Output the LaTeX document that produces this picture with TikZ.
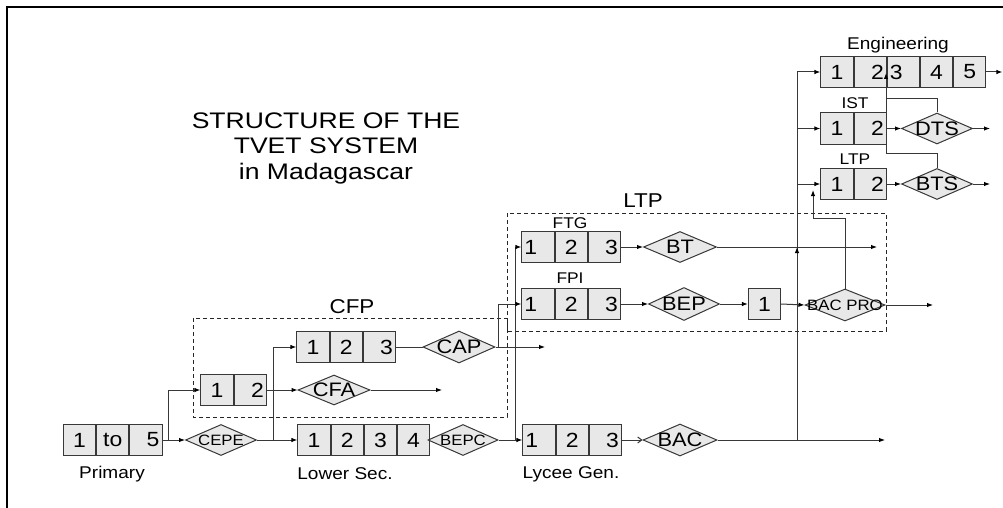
\documentclass[tikz,border=0pt]{standalone}
\usepackage{fontspec}
\setmainfont{Liberation Sans}
\usetikzlibrary{shapes.geometric,arrows.meta}
\newcommand{\sx}[1]{\scalebox{1.12}[1]{#1}}
\begin{document}
\begin{tikzpicture}[x=1pt,y=-1pt,
  line/.style={draw=black!78, line width=1pt},
  arr/.style={line, -{Latex[length=6pt,width=4.5pt,color=black]}},
  oarr/.style={line, -{Straight Barb[length=4pt,width=6pt]}},
  cellbase/.style={draw=black!78, fill=black!9, line width=1pt, minimum height=31pt,
     inner ysep=0pt, inner xsep=2.5pt, text width=27.2pt, font=\fontsize{20.5}{22}\selectfont},
  cell/.style={cellbase, align=center},
  cellL/.style={cellbase, align=left},
  cellR/.style={cellbase, align=right},
  dia/.style={shape=diamond, draw=black!78, fill=black!9, line width=1pt, inner sep=0pt},
  dbig/.style={font=\fontsize{19.5}{21}\selectfont, inner sep=0pt},
  dsmall/.style={font=\fontsize{15}{17}\selectfont, inner sep=0pt},
  lab/.style={font=\fontsize{17}{19}\selectfont, inner sep=0pt},
  slab/.style={font=\fontsize{15.5}{17}\selectfont, inner sep=0pt},
  glab/.style={font=\fontsize{20}{22}\selectfont, inner sep=0pt},
  grp/.style={draw=black!85, line width=0.8pt, dash pattern=on 4pt off 3pt}
]
\useasboundingbox (0,0) rectangle (1003,508);
% frame
\draw[line width=2pt] (7,508) -- (7,7) -- (1003,7);

% title
\node[align=center, font=\fontsize{22.5}{25.5}\selectfont] (title) at (326,148)
  {\scalebox{1.18}[1]{STRUCTURE OF THE}\\ \scalebox{1.18}[1]{TVET SYSTEM}\\ \scalebox{1.18}[1]{in Madagascar}};

% dashed groups
\draw[grp] (193,318) rectangle (507,417);
\draw[grp] (507,213) rectangle (886,331);
\node[glab] (cfplab) at (352,307) {\sx{CFP}};
\node[glab] (ltplab) at (643,201) {\sx{LTP}};

% Primary
\node[cell] (p1) at (79.5,440) {\sx{1}};
\node[cell,anchor=west] (p2) at (p1.east) {\sx{to}};
\node[cellR,anchor=west] (p3) at (p2.east) {\sx{5}};
\node[lab] (primlab) at (112,474) {\sx{Primary}};

\node[dia, minimum width=71pt, minimum height=31pt, label={[dsmall]center:\sx{CEPE}}] (cepe) at (221,440) {};

% Lower secondary
\node[cell] (l1) at (314,440) {\sx{1}};
\node[cell,anchor=west] (l2) at (l1.east) {\sx{2}};
\node[cell,anchor=west] (l3) at (l2.east) {\sx{3}};
\node[cell,anchor=west] (l4) at (l3.east) {\sx{4}};
\node[lab] (lowlab) at (345,474) {\sx{Lower Sec.}};

\node[dia, minimum width=70pt, minimum height=31pt, label={[dsmall]center:\sx{BEPC}}] (bepc) at (463,440) {};

% Lycee
\node[cellL] (y1) at (539,440) {\sx{1}};
\node[cell,anchor=west] (y2) at (y1.east) {\sx{2}};
\node[cellR,anchor=west] (y3) at (y2.east) {\sx{3}};
\node[lab] (lyclab) at (571,474) {\sx{Lycee Gen.}};

\node[dia, minimum width=74pt, minimum height=32pt, label={[dbig]center:\sx{BAC}}] (bac) at (680,440) {};

% CFP
\node[cell] (c1) at (217,390) {\sx{1}};
\node[cellR,anchor=west] (c2) at (c1.east) {\sx{2}};
\node[dia, minimum width=72pt, minimum height=30pt, label={[dbig]center:\sx{CFA}}] (cfa) at (334,390) {};
\node[cell] (d1) at (313,347) {\sx{1}};
\node[cell,anchor=west] (d2) at (d1.east) {\sx{2}};
\node[cellR,anchor=west] (d3) at (d2.east) {\sx{3}};
\node[dia, minimum width=72pt, minimum height=32pt, label={[dbig]center:\sx{CAP}}] (cap) at (459,347) {};

% LTP
\node[cellL] (f1) at (538,247) {\sx{1}};
\node[cell,anchor=west] (f2) at (f1.east) {\sx{2}};
\node[cellR,anchor=west] (f3) at (f2.east) {\sx{3}};
\node[slab] (ftglab) at (570,223) {\sx{FTG}};
\node[dia, minimum width=73pt, minimum height=31pt, label={[dbig]center:\sx{BT}}] (bt) at (680,247) {};

\node[cellL] (g1) at (538,304) {\sx{1}};
\node[cell,anchor=west] (g2) at (g1.east) {\sx{2}};
\node[cellR,anchor=west] (g3) at (g2.east) {\sx{3}};
\node[slab] (fpilab) at (570,278) {\sx{FPI}};
\node[dia, minimum width=71pt, minimum height=33pt, label={[dbig]center:\sx{BEP}}] (bep) at (684,304) {};
\node[cell] (one) at (764.5,304) {\sx{1}};
\node[dia, minimum width=80pt, minimum height=32pt, label={[dsmall]center:\sx{BAC PRO}}] (bacpro) at (845,305) {};

% Higher
\node[cell] (e1) at (837,72) {\sx{1}};
\node[cellR,anchor=west] (e2) at (e1.east) {\sx{2}};
\node[cellL,anchor=west] (e3) at (e2.east) {\sx{3}};
\node[cell,anchor=west] (e4) at (e3.east) {\sx{4}};
\node[cell,anchor=west] (e5) at (e4.east) {\sx{5}};
\node[lab] (englab) at (898,45) {\sx{Engineering}};

\node[cell] (i1) at (837,128.5) {\sx{1}};
\node[cellR,anchor=west] (i2) at (i1.east) {\sx{2}};
\node[slab] (istlab) at (855,103) {\sx{IST}};
\node[dia, minimum width=71pt, minimum height=31pt, label={[dbig]center:\sx{DTS}}] (dts) at (937,128.5) {};

\node[cell] (t1) at (837,184) {\sx{1}};
\node[cellR,anchor=west] (t2) at (t1.east) {\sx{2}};
\node[slab] (ltp2lab) at (855,159) {\sx{LTP}};
\node[dia, minimum width=71pt, minimum height=31pt, label={[dbig]center:\sx{BTS}}] (bts) at (937,184) {};

% junctions and free ends
\coordinate (j1) at (168,440);
\coordinate (j2) at (273,440);
\coordinate (j3) at (515,440);
\coordinate (j4) at (498,347);
\coordinate (j5) at (797,440);
\coordinate (vtop) at (797,72);
\coordinate (cfaend) at (442,390);
\coordinate (capend) at (545,347);
\coordinate (btend) at (877,247);
\coordinate (bacend) at (885,440);
\coordinate (bpend) at (933,305);
\coordinate (bpbend) at (813,218);
\coordinate (bptip) at (813,190);
\coordinate (vx) at (886,99);
\coordinate (vy) at (886,153);
\coordinate (vtip) at (886,73);

% connectors
\draw[arr] (p3.east) -- (cepe.west);
\draw[arr] (j1) |- (c1.west);
\draw[arr] (cepe.east) -- (l1.west);
\draw[arr] (j2) |- (d1.west);
\draw[arr] (bepc.east) -- (y1.west);
\draw[arr] (j3) |- (f1.west);
\draw[oarr] (y3.east) -- (bac.west);
\draw[arr] (bac.east) -- (bacend);
\draw[arr] (c2.east) -- (cfa.west);
\draw[arr] (cfa.east) -- (cfaend);
\draw[line] (d3.east) -- (cap.west);
\draw[arr] (cap.east) -- (capend);
\draw[arr] (j4) |- (g1.west);
\draw[arr] (f3.east) -- (bt.west);
\draw[arr] (bt.east) -- (btend);
\draw[arr] (g3.east) -- (bep.west);
\draw[arr] (bep.east) -- (one.west);
\draw[arr] (one.east) -- (bacpro.west);
\draw[arr] (bacpro.east) -- (bpend);
\draw[arr] (bacpro.north) |- (bpbend) -- (bptip);
\draw[line] (j5) -- (vtop);
\draw[arr] (j5) -- (j5 |- bt.east);
\draw[arr] (vtop) -- (e1.west);
\draw[arr] (vtop |- i1.west) -- (i1.west);
\draw[arr] (vtop |- t1.west) -- (t1.west);
\draw[arr] (e5.east) -- ++(16,0);
\draw[arr] (i2.east) -- (dts.west);
\draw[arr] (dts.east) -- ++(17,0);
\draw[arr] (t2.east) -- (bts.west);
\draw[arr] (bts.east) -- ++(17,0);
\draw[line] (dts.north) |- (vx);
\draw[arr] (bts.north) |- (vy) -- (vtip);
\end{tikzpicture}
\end{document}
